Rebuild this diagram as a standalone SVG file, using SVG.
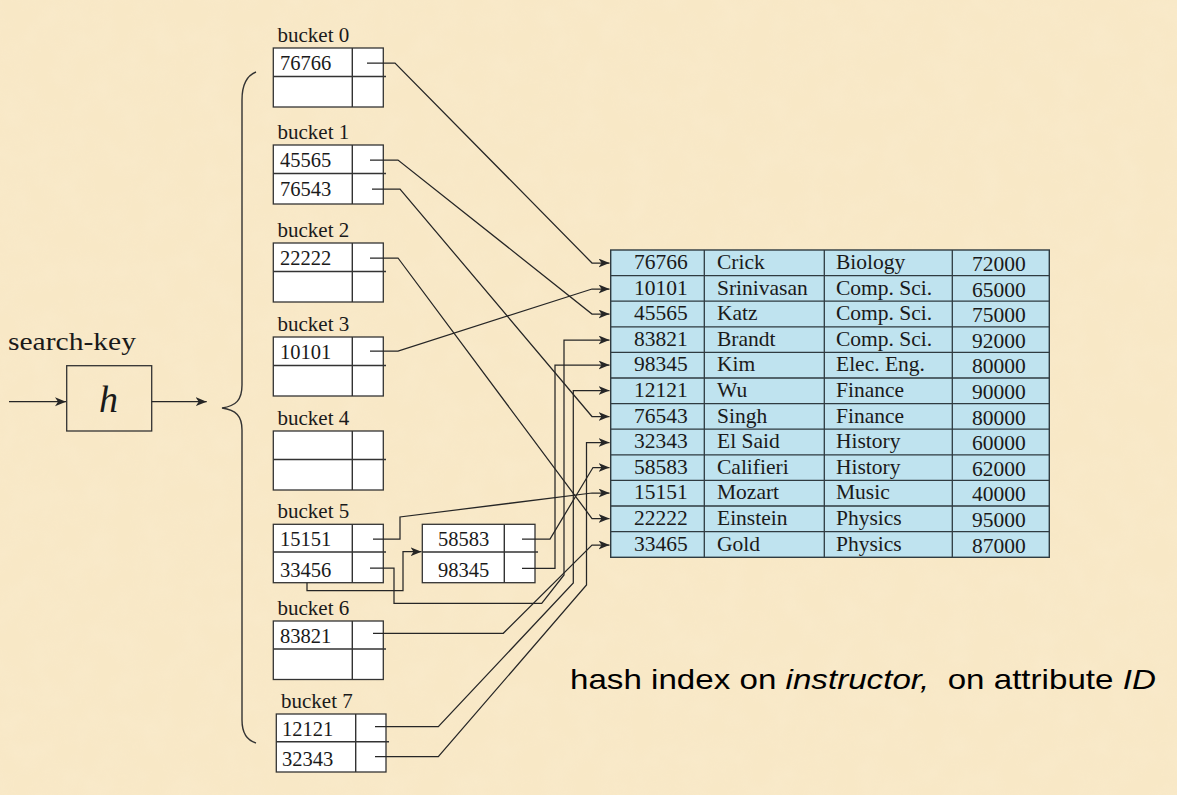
<svg xmlns="http://www.w3.org/2000/svg" width="1177" height="795" viewBox="0 0 1177 795">
<defs>
<style>
.serif{font-family:"Liberation Serif","Times New Roman",serif;fill:#1a1a1a}
.bl{font-size:21px}
.val{font-size:20.5px}
.tb{font-size:21.5px}
.box{fill:#fff;stroke:#333;stroke-width:1.3}
.ln{stroke:#333;stroke-width:1.4;fill:none}
.con{stroke:#262626;stroke-width:1.25;fill:none;marker-end:url(#ah)}
.tab{fill:#bfe3ef;stroke:#2f3b40;stroke-width:1.4}
.tl{stroke:#2f3b40;stroke-width:1.3}
</style>
<marker id="ah" markerUnits="userSpaceOnUse" markerWidth="12" markerHeight="10" refX="11" refY="4.5" orient="auto">
<path d="M0,0 L11,4.5 L0,9 L3,4.5 z" fill="#262626"/>
</marker>
<filter id="tex" x="0" y="0" width="100%" height="100%">
<feTurbulence type="fractalNoise" baseFrequency="0.035" numOctaves="3" seed="4" result="n"/>
<feColorMatrix type="matrix" values="0 0 0 0 0.96  0 0 0 0 0.86  0 0 0 0 0.66  0 0 0 0.9 -0.25"/>
</filter>
</defs>
<rect width="1177" height="795" fill="#f8e8c6"/>
<rect width="1177" height="795" filter="url(#tex)" opacity="0.45"/>

<g id="hash-function">
<text class="serif" x="8" y="350" font-size="25" textLength="128" lengthAdjust="spacingAndGlyphs">search-key</text>
<rect x="66.7" y="365.7" width="85" height="65.3" fill="none" stroke="#333" stroke-width="1.3"/>
<text class="serif" x="108.5" y="412" font-size="38" font-style="italic" text-anchor="middle">h</text>
<path class="con" d="M9,401.7 H66"/>
<path class="con" d="M151.7,401.7 H206.7"/>
</g>

<g id="brace">
<path class="ln" d="M256,72 C246,76 242,86 242,100 V385 C242,400 236,406 222,408 C236,410 242,416 242,430 V720 C242,732 246,740 256,743"/>
</g>

<g id="bucket0">
<text class="serif bl" x="277.5" y="41.5">bucket 0</text>
<rect class="box" x="273.3" y="48" width="110" height="59"/>
<path class="ln" d="M352.3,48 V107 M273.3,76.5 H386"/>
<text class="serif val" x="280" y="70">76766</text>
</g>
<g id="bucket1">
<text class="serif bl" x="277.5" y="138.5">bucket 1</text>
<rect class="box" x="273.3" y="145" width="110" height="59"/>
<path class="ln" d="M352.3,145 V204 M273.3,173.5 H386"/>
<text class="serif val" x="280" y="167">45565</text>
<text class="serif val" x="280" y="196">76543</text>
</g>
<g id="bucket2">
<text class="serif bl" x="277.5" y="236.5">bucket 2</text>
<rect class="box" x="273.3" y="243" width="110" height="59"/>
<path class="ln" d="M352.3,243 V302 M273.3,271.5 H386"/>
<text class="serif val" x="280" y="265">22222</text>
</g>
<g id="bucket3">
<text class="serif bl" x="277.5" y="330.5">bucket 3</text>
<rect class="box" x="273.3" y="337" width="110" height="59"/>
<path class="ln" d="M352.3,337 V396 M273.3,365.5 H386"/>
<text class="serif val" x="280" y="359">10101</text>
</g>
<g id="bucket4">
<text class="serif bl" x="277.5" y="424.5">bucket 4</text>
<rect class="box" x="273.3" y="431" width="110" height="59"/>
<path class="ln" d="M352.3,431 V490 M273.3,459.5 H386"/>
</g>
<g id="bucket5">
<text class="serif bl" x="277.5" y="517.5">bucket 5</text>
<rect class="box" x="273.3" y="524.3" width="110" height="58.4"/>
<path class="ln" d="M352.3,524.3 V582.7 M273.3,552 H386"/>
<text class="serif val" x="280" y="546">15151</text>
<text class="serif val" x="280" y="577">33456</text>
</g>
<g id="overflow5">
<rect class="box" x="422.3" y="524.3" width="112.7" height="58.4"/>
<path class="ln" d="M504.3,524.3 V582.7 M422.3,552 H538"/>
<text class="serif val" x="438" y="546">58583</text>
<text class="serif val" x="438" y="577">98345</text>
</g>
<g id="bucket6">
<text class="serif bl" x="277.5" y="614.5">bucket 6</text>
<rect class="box" x="273.3" y="621" width="110" height="58.5"/>
<path class="ln" d="M352.3,621 V679.5 M273.3,649 H386"/>
<text class="serif val" x="280" y="643">83821</text>
</g>
<g id="bucket7">
<text class="serif bl" x="281" y="707.5">bucket 7</text>
<rect class="box" x="276.3" y="714" width="109.7" height="58"/>
<path class="ln" d="M355.7,714 V772 M276.3,741.7 H389"/>
<text class="serif val" x="282" y="736">12121</text>
<text class="serif val" x="282" y="766">32343</text>
</g>

<g id="instructor-table">
<rect class="tab" x="610.7" y="250" width="438.6" height="307.3"/>
<path class="tl" d="M704.3,250 V557.3 M824.3,250 V557.3 M952.3,250 V557.3 M610.7,275.6 H1049.3 M610.7,301.2 H1049.3 M610.7,326.8 H1049.3 M610.7,352.4 H1049.3 M610.7,378 H1049.3 M610.7,403.6 H1049.3 M610.7,429.2 H1049.3 M610.7,454.8 H1049.3 M610.7,480.4 H1049.3 M610.7,506 H1049.3 M610.7,531.6 H1049.3"/>
<g class="serif tb">
<text x="634" y="269">76766</text><text x="717" y="269">Crick</text><text x="836" y="269">Biology</text><text x="972" y="271">72000</text>
<text x="634" y="294.6">10101</text><text x="717" y="294.6">Srinivasan</text><text x="836" y="294.6">Comp. Sci.</text><text x="972" y="296.6">65000</text>
<text x="634" y="320.2">45565</text><text x="717" y="320.2">Katz</text><text x="836" y="320.2">Comp. Sci.</text><text x="972" y="322.2">75000</text>
<text x="634" y="345.8">83821</text><text x="717" y="345.8">Brandt</text><text x="836" y="345.8">Comp. Sci.</text><text x="972" y="347.8">92000</text>
<text x="634" y="371.4">98345</text><text x="717" y="371.4">Kim</text><text x="836" y="371.4">Elec. Eng.</text><text x="972" y="373.4">80000</text>
<text x="634" y="397">12121</text><text x="717" y="397">Wu</text><text x="836" y="397">Finance</text><text x="972" y="399">90000</text>
<text x="634" y="422.6">76543</text><text x="717" y="422.6">Singh</text><text x="836" y="422.6">Finance</text><text x="972" y="424.6">80000</text>
<text x="634" y="448.2">32343</text><text x="717" y="448.2">El Said</text><text x="836" y="448.2">History</text><text x="972" y="450.2">60000</text>
<text x="634" y="473.8">58583</text><text x="717" y="473.8">Califieri</text><text x="836" y="473.8">History</text><text x="972" y="475.8">62000</text>
<text x="634" y="499.4">15151</text><text x="717" y="499.4">Mozart</text><text x="836" y="499.4">Music</text><text x="972" y="501.4">40000</text>
<text x="634" y="525">22222</text><text x="717" y="525">Einstein</text><text x="836" y="525">Physics</text><text x="972" y="527">95000</text>
<text x="634" y="550.6">33465</text><text x="717" y="550.6">Gold</text><text x="836" y="550.6">Physics</text><text x="972" y="552.6">87000</text>
</g>
</g>

<g id="connectors">
<path class="con" d="M367,63 H395 L592,263 H609.5"/>
<path class="con" d="M370,160 H398 L592,314 H609.5"/>
<path class="con" d="M372,189 H400 L592,416.5 H609.5"/>
<path class="con" d="M370,258 H398 L592,518.5 H609.5"/>
<path class="con" d="M370,351 H398 L592,289 H609.5"/>
<path class="con" d="M373,539 H400 V517 L592,493 H609.5"/>
<path class="con" d="M370,568 H394 V603.3 H541.7 L564,575 V340 H609.5"/>
<path class="con" d="M307,582.7 V590.5 H403 V551.7 H421.5"/>
<path class="con" d="M522,539 H550 L593,467.5 H609.5"/>
<path class="con" d="M522,568.3 H555 V365 H609.5"/>
<path class="con" d="M373,633.3 H503.3 L592,545 H609.5"/>
<path class="con" d="M375,726.7 H438.3 L573.3,583 V390.5 H609.5"/>
<path class="con" d="M375,756.7 H438.3 L586.5,585 V442.5 H609.5"/>
</g>

<g id="caption">
<text transform="translate(570,689) scale(1.184,1)" font-family="'Liberation Sans',Arial,sans-serif" font-size="28" fill="#000" xml:space="preserve">hash index on <tspan font-style="italic">instructor,</tspan>  on attribute <tspan font-style="italic">ID</tspan></text>
</g>
</svg>
